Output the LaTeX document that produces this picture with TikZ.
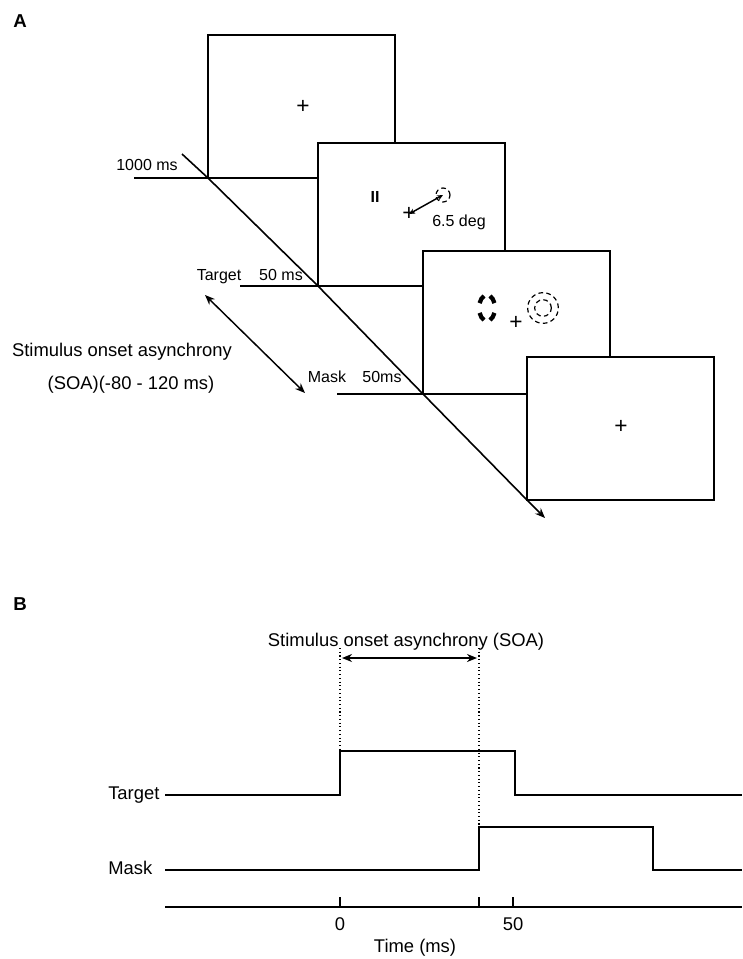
\documentclass[tikz,border=0pt]{standalone}
\usepackage{fontspec}
\setmainfont{Liberation Sans}
\usetikzlibrary{arrows.meta}

\begin{document}
\begin{tikzpicture}[x=0.75pt,y=-0.75pt,
  >={Stealth[length=7.5pt,width=6pt]},
  screen/.style={draw,fill=white,line width=1.4pt,minimum width=140.25pt,minimum height=107.25pt,inner sep=0pt,outer sep=0pt,anchor=north west},
  lbl/.style={font=\fontsize{12}{14}\selectfont,inner sep=0pt,text height=1.5ex,text depth=.25ex},
  biglbl/.style={font=\fontsize{13.8}{16}\selectfont,inner sep=0pt,text height=1.5ex,text depth=.25ex},
  fix/.style={font=\fontsize{17}{17}\selectfont,inner sep=0pt},
  ring/.style={draw,circle,inner sep=0pt,line width=0.9pt,dash pattern=on 3.5pt off 2.5pt},
  trace/.style={line width=1.2pt}]
\useasboundingbox (0,0) rectangle (742,959);

% panel A
\node[font=\bfseries\fontsize{14}{14}\selectfont,inner sep=0pt] (pa) at (20,21) {A};
\node[screen] (s1) at (208,35) {};
\node[screen] (s2) at (318,143) {};
\node[screen] (s3) at (423,251) {};
\node[screen] (s4) at (527,357) {};

\draw[line width=1.1pt] (134,178) -- (s1.south west);
\draw[line width=1.1pt] (240,286) -- (s2.south west);
\draw[line width=1.1pt] (337,394) -- (s3.south west);

\coordinate (t0) at (182,154);
\coordinate (t1) at (545,518);
\draw[line width=1.2pt,->] (t0) -- (s1.south west) -- (s2.south west) -- (s3.south west) -- (s4.south west) -- (t1);

\node[lbl] (l1000) at (147,166) {1000 ms};
\node[lbl] (ltarget) at (219,276) {Target};
\node[lbl] (lt50) at (281,276) {50 ms};
\node[lbl] (lmask) at (327,378) {Mask};
\node[lbl] (lm50) at (382,378) {50ms};
\node[biglbl] (soa1) at (122,352) {Stimulus onset asynchrony};
\node[biglbl] (soa2) at (131,385) {(SOA)(-80 - 120 ms)};

\coordinate (sa) at (205,295);
\coordinate (sb) at (305,393);
\draw[line width=1.1pt,<->] (sa) -- (sb);

% screen contents
\node[fix] (f1) at (303,107) {+};
\node[font=\bfseries\fontsize{12}{12}\selectfont,inner sep=0pt] (cue) at (375,197) {II};
\node[fix] (f2) at (409,214) {+};
\node[ring,minimum size=10.5pt] (tc) at (443,195) {};
\draw[line width=1.1pt,<->,>={Stealth[length=4.5pt,width=4pt]}] (f2.center) -- (tc.center);
\node[lbl] (deg) at (459,222) {6.5 deg};

\coordinate (mk) at (487,308);
\foreach \a in {22,112,202,292}
  \draw[line width=3.2pt] (mk) ++(\a:8 and 13) arc[start angle=\a,end angle=\a+46,x radius=8,y radius=13];
\node[fix] (f3) at (516,323) {+};
\node[ring,minimum size=23pt] (mo) at (543,308) {};
\node[ring,minimum size=12.5pt] (mi) at (543,308) {};

\node[fix] (f4) at (621,427) {+};

% panel B
\node[font=\bfseries\fontsize{14}{14}\selectfont,inner sep=0pt] (pb) at (20,604) {B};
\node[biglbl] (soab) at (406,642) {Stimulus onset asynchrony (SOA)};
\coordinate (d0) at (340,648);
\coordinate (d1) at (479,648);
\draw[dotted,line width=0.8pt] (d0) -- (340,751);
\draw[dotted,line width=0.8pt] (d1) -- (479,827);
\draw[line width=1.3pt,<->] ([xshift=1.5pt,yshift=-7.5pt]d0) -- ([xshift=-1.5pt,yshift=-7.5pt]d1);

\node[biglbl,anchor=west] (ltgt) at (108,795) {Target};
\node[biglbl,anchor=west] (lmsk) at (108,870) {Mask};
\draw[trace] (165,795) -- (340,795) -- (340,751) -- (515,751) -- (515,795) -- (742,795);
\draw[trace] (165,870) -- (479,870) -- (479,827) -- (653,827) -- (653,870) -- (742,870);

\draw[trace] (165,907) -- (742,907);
\foreach \x in {340,479,513}
  \draw[line width=0.9pt] (\x,897) -- (\x,907);
\node[biglbl] (tick0) at (340,926) {0};
\node[biglbl] (tick50) at (513,926) {50};
\node[biglbl] (ltime) at (415,948) {Time (ms)};
\end{tikzpicture}
\end{document}
